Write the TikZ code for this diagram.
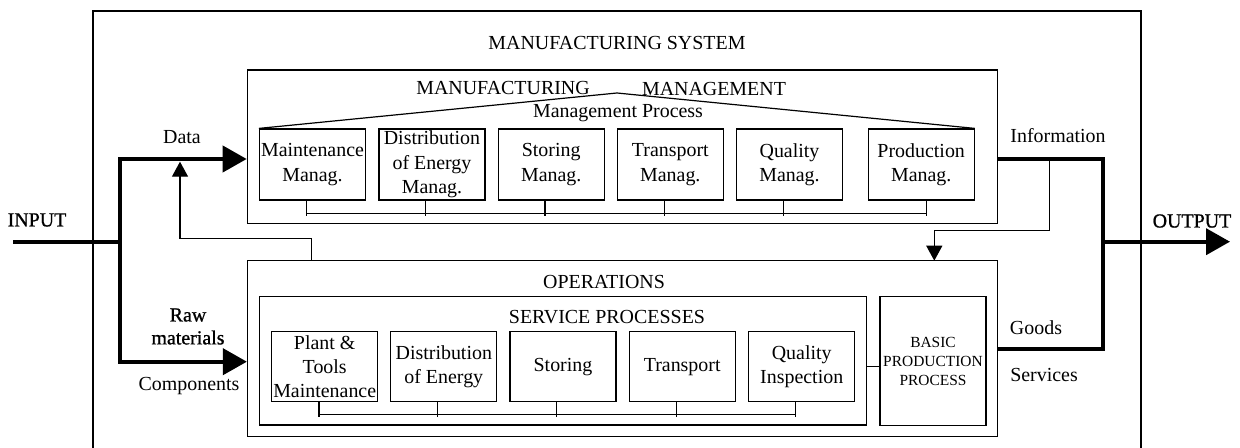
\documentclass[tikz,border=0pt]{standalone}
\usepackage{fontspec}
\setmainfont{Liberation Serif}
\newfontfamily\heavyserif[FakeBold=1]{Liberation Serif}
\usetikzlibrary{arrows.meta}
\begin{document}
\begin{tikzpicture}[x=1bp,y=-1bp,
  every node/.style={font=\fontsize{20}{24}\selectfont},
  thinline/.style={line width=1.2bp},
  thickline/.style={line width=4bp,line join=miter},
  bigtip/.style={-{Triangle[length=24bp,width=26bp]}},
  smalltip/.style={-{Triangle[length=15bp,width=16bp]}},
  frame/.style={draw,line width=1.2bp,inner sep=0pt},
  procbox/.style={draw,line width=1.2bp,inner sep=0pt,align=center,
    minimum width=106bp,font=\fontsize{20}{24.5}\selectfont},
  mgbox/.style={procbox,minimum height=71bp},
  svbox/.style={procbox,minimum height=70bp},
  label/.style={inner sep=0pt,align=center},
  heavy/.style={inner sep=0pt,font=\fontsize{20}{23}\heavyserif}
]
\useasboundingbox (0,0) rectangle (1240,448);

% outer system frame (open at the bottom)
\draw[thinline] (93,448) -- (93,11) -- (1141,11) -- (1141,448);
\node[label] (systitle) at (617,43) {MANUFACTURING SYSTEM};

% management block
\node[frame,minimum width=750.4bp,minimum height=153.3bp] (mgmt) at (622.5,146.7) {};
\node[label] (mgA) at (503,88) {MANUFACTURING};
\node[label] (mgB) at (714,89) {MANAGEMENT};
\node[label] (mgproc) at (618,113) {Management Process};

\node[mgbox] (m1) at (312.5,164.5) {Maintenance\\Manag.};
\node[mgbox] (m2) at (432,164.5) {Distribution\\of Energy\\Manag.};
\node[mgbox] (m3) at (551.2,164.5) {Storing\\Manag.};
\node[mgbox] (m4) at (670.3,164.5) {Transport\\Manag.};
\node[mgbox] (m5) at (789.5,164.5) {Quality\\Manag.};
\node[mgbox] (m6) at (921.2,164.5) {Production\\Manag.};

\coordinate (apex) at (617,93);
\draw[thinline] (m1.north west) -- (apex) -- (m6.north east);

\foreach \n/\dx in {m1/-5.8,m2/-6.3,m3/-6.2,m4/-6,m5/-6.2,m6/5.5}
  \draw[thinline] ([xshift=\dx bp]\n.south) -- ++(0,15.5);
\draw[thinline] ([xshift=-5.8bp,yshift=-13.3bp]m1.south) -- ([xshift=5.5bp,yshift=-13.3bp]m6.south);

% operations block
\node[frame,minimum width=750.2bp,minimum height=176bp] (ops) at (622.6,348.7) {};
\node[label] (opstitle) at (604,282) {OPERATIONS};
\node[frame,minimum width=607.4bp,minimum height=128.3bp] (svc) at (563,360.8) {};
\node[label] (svctitle) at (607,317) {SERVICE PROCESSES};

\node[svbox] (s1) at (324.7,366.7) {Plant \&\\Tools\\Maintenance};
\node[svbox] (s2) at (443.8,366.7) {Distribution\\of Energy};
\node[svbox] (s3) at (563,366.7) {Storing};
\node[svbox] (s4) at (682.2,366.7) {Transport};
\node[svbox] (s5) at (801.7,366.7) {Quality\\Inspection};

\foreach \n/\dx in {s1/-5.7,s2/-6.1,s3/-6.3,s4/-5.5,s5/-6}
  \draw[thinline] ([xshift=\dx bp]\n.south) -- ++(0,14.3);
\draw[thinline] ([xshift=-5.7bp,yshift=-12.6bp]s1.south) -- ([xshift=-6bp,yshift=-12.6bp]s5.south);

\node[draw,line width=1.2bp,inner sep=0pt,align=center,minimum width=106bp,
  minimum height=129bp,font=\fontsize{15.5}{19}\selectfont] (basic) at (933,361.2)
  {BASIC\\PRODUCTION\\PROCESS};
\coordinate (sb) at (873,366.7);
\draw[thinline] (svc.east |- sb) -- (basic.west |- sb);

% input side
\coordinate (inp) at (13,241.7);
\coordinate (jTop) at (120,159);
\coordinate (jBot) at (120,361.7);
\node[heavy] (inlabel) at (37,220) {INPUT};
\draw[thickline] (inp) -- (inp -| jTop);
\draw[thickline,{Triangle[length=24bp,width=26bp]}-{Triangle[length=24bp,width=26bp]}]
  (ops.west |- jBot) -- (jBot) -- (jTop) -- (mgmt.west |- jTop);
\node[label] (data) at (182,137) {Data};
\node[inner sep=0pt,align=center,font=\fontsize{20}{23}\heavyserif] (raw) at (188,326.5) {Raw\\materials};
\node[label] (comp) at (189,386) {Components};

% feedback from operations to management
\coordinate (fb) at (311.7,260.7);
\coordinate (fbtip) at (180,161.7);
\draw[thinline,smalltip] (fb) -- (311.7,238.3) -| (fbtip);

% output side
\coordinate (jR) at (1103.3,159);
\coordinate (jR2) at (1103.3,349.3);
\coordinate (jOut) at (1103.3,241.7);
\coordinate (outTip) at (1230,241.7);
\draw[thickline] (mgmt.east |- jR) -- (jR) -- (jR2) -- (ops.east |- jR2);
\draw[thickline,bigtip] (jOut) -- (outTip);
\node[heavy] (outlabel) at (1192,221) {OUTPUT};
\node[label] (info) at (1058,136) {Information};
\node[label] (goods) at (1036,328) {Goods};
\node[label] (serv) at (1044,375) {Services};

% information fed to operations
\coordinate (ib) at (1049.3,159);
\coordinate (ibTip) at (934.3,260.7);
\draw[thinline,smalltip] (ib) -- (1049.3,230.7) -| (ibTip);
\end{tikzpicture}
\end{document}
